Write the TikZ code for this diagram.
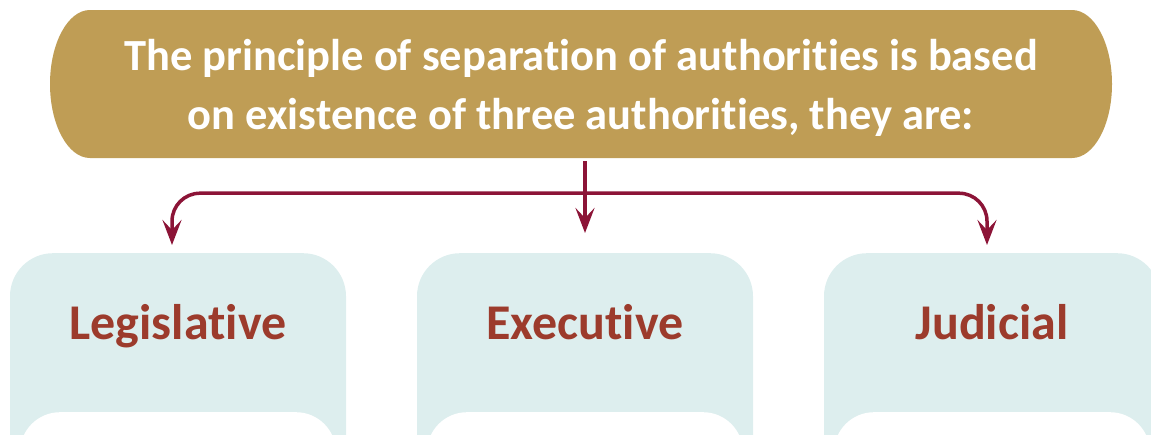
\documentclass[tikz,border=0pt]{standalone}
\usepackage{fontspec}
\setmainfont{Carlito}[Ligatures=NoCommon]
\usetikzlibrary{arrows.meta,positioning}
\definecolor{bannerGold}{HTML}{BF9D55}
\definecolor{arrowWine}{HTML}{8C1437}
\definecolor{paleTeal}{HTML}{DDEEEE}
\definecolor{labelRust}{HTML}{9C3B2C}

\begin{document}
\begin{tikzpicture}
[x=1pt,y=-1pt,
bigBanner/.style={minimum width=1062pt,minimum height=148pt,inner sep=0pt,
  path picture={\fill[bannerGold]
    ([xshift=40pt]path picture bounding box.north west) --
    ([xshift=-40pt]path picture bounding box.north east)
      arc[start angle=90,end angle=-90,x radius=40pt,y radius=74pt] --
    ([xshift=40pt]path picture bounding box.south west)
      arc[start angle=270,end angle=90,x radius=40pt,y radius=74pt] -- cycle;}},
bannerText/.style={text=white,align=center,inner sep=0pt,
  font=\bfseries\fontsize{44.5}{59}\selectfont},
tealBox/.style={fill=paleTeal,rounded corners=43pt,minimum width=336pt,
  minimum height=260pt,anchor=north,inner sep=0pt},
whiteSheet/.style={fill=white,rounded corners=40pt,minimum width=316pt,
  minimum height=120pt,anchor=north,inner sep=0pt},
boxLabel/.style={text=labelRust,anchor=base,inner sep=0pt,
  font=\bfseries\fontsize{50}{60}\selectfont},
branchArrow/.style={draw=arrowWine,line width=3.5pt,rounded corners=28pt,
  -{Stealth[length=25pt,width=19pt,inset=10pt]}}]
  \clip (0,0) rectangle (1151,434);
  % banner on top
  \node[bigBanner] (bannerOFchart) at (581,84) {};
  \node[bannerText] (headOFchart) at (581,88)
    {The principle of separation of authorities is based\\
     on existence of three authorities, they are:};
  % the three authorities
  \node[tealBox] (firstOFbox)  at (178,253) {};
  \node[tealBox] (secondOFbox) at (585,253) {};
  \node[tealBox] (thirdOFbox)  at (992,253) {};
  \node[whiteSheet] (firstOFsheet)  at ([yshift=-159pt]firstOFbox.north) {};
  \node[whiteSheet] (secondOFsheet) at ([yshift=-159pt]secondOFbox.north) {};
  \node[whiteSheet] (thirdOFsheet)  at ([yshift=-159pt]thirdOFbox.north) {};
  \node[boxLabel] (firstOFlabel)  at ([yshift=-86pt]firstOFbox.north) {Legislative};
  \node[boxLabel] (secondOFlabel) at ([yshift=-86pt]secondOFbox.north) {Executive};
  \node[boxLabel] (thirdOFlabel)  at ([yshift=-86pt]thirdOFbox.north) {Judicial};
  % arrows
  \coordinate (forkOFarrows) at ([yshift=-35pt]bannerOFchart.south -| secondOFbox.north);
  \draw[branchArrow,shorten <=3pt,shorten >=20pt]
    (bannerOFchart.south -| secondOFbox.north) -- (secondOFbox.north);
  \draw[branchArrow,shorten >=8pt] (forkOFarrows) -| ([xshift=-6pt]firstOFbox.north);
  \draw[branchArrow,shorten >=8pt] (forkOFarrows) -| ([xshift=-5pt]thirdOFbox.north);
\end{tikzpicture}
\end{document}
